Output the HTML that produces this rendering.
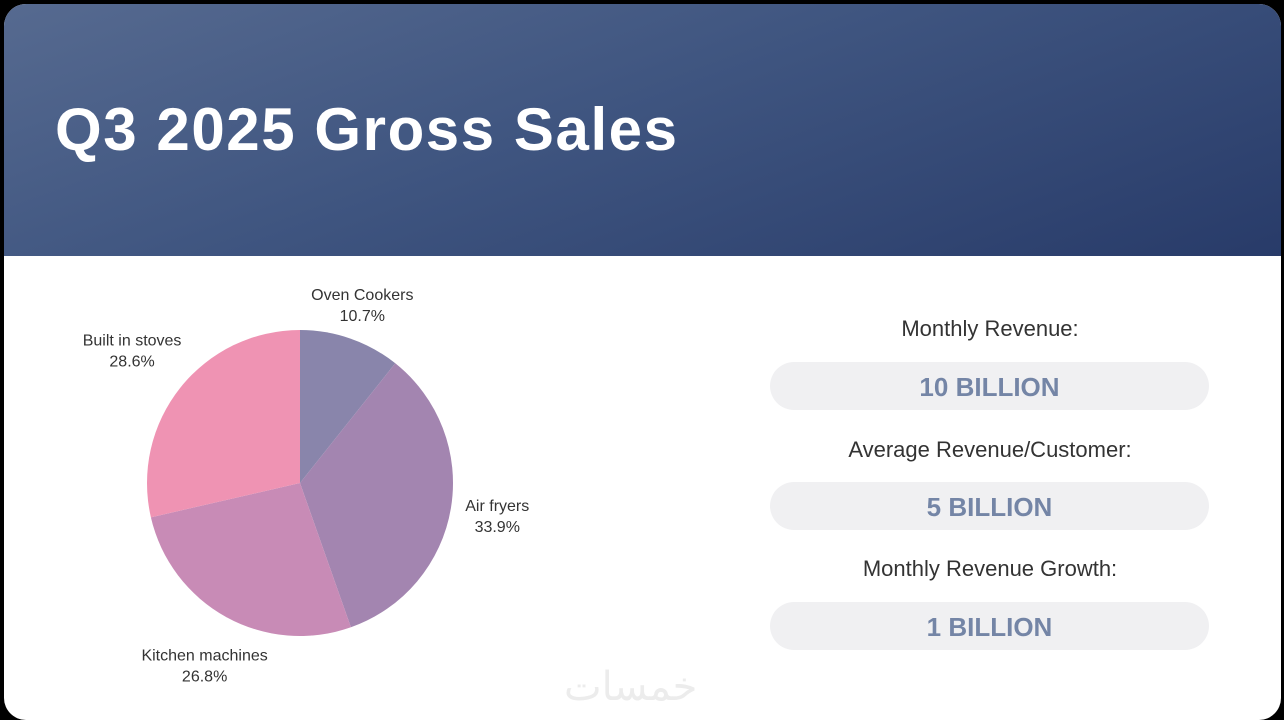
<!DOCTYPE html>
<html><head><meta charset="utf-8"><style>
body{margin:0;background:#000;width:1284px;height:718px;overflow:hidden;font-family:"Liberation Sans",sans-serif;position:relative}
#card{position:absolute;left:4px;top:4px;width:1277px;height:716px;border-radius:22px;background:#fff;overflow:hidden}
#hdr{position:absolute;left:0;top:0;width:100%;height:252px;background:linear-gradient(160deg,#566a90 0%,#3f5580 45%,#283b69 100%)}
.lbl{position:absolute;width:440px;left:766px;text-align:center;font-size:22px;color:#333}
.pill{position:absolute;left:766px;width:439px;height:48px;border-radius:24px;background:#f0f0f2;text-align:center;line-height:50px;font-size:26px;font-weight:bold;color:#7485a6}
</style></head><body>
<div id="card">
<div id="hdr">
<svg width="1277" height="252"><text x="51" y="146" font-family="Liberation Sans, sans-serif" font-weight="bold" font-size="60" fill="#fff" textLength="622">Q3 2025 Gross Sales</text></svg>
</div>
<svg id="pie" width="700" height="460" style="position:absolute;left:0;top:252px"></svg>
<div class="lbl" style="top:312px">Monthly Revenue:</div>
<div class="pill" style="top:358px">10 BILLION</div>
<div class="lbl" style="top:433px">Average Revenue/Customer:</div>
<div class="pill" style="top:478px">5 BILLION</div>
<div class="lbl" style="top:552px">Monthly Revenue Growth:</div>
<div class="pill" style="top:598px">1 BILLION</div>
<div style="position:absolute;left:560px;top:660px;font-size:40px;color:#ececec;font-family:'DejaVu Sans',sans-serif">خمسات</div>
</div>
<script>
const categories=["Oven Cookers","Air fryers","Kitchen machines","Built in stoves"];
const values=[10.7,33.9,26.8,28.6];
const colors=["#8985ab","#a385b0","#c88bb6","#ef93b3"];
const svg=document.getElementById('pie');const NS="http://www.w3.org/2000/svg";
const cx=296,cy=227,r=153;
const total=values.reduce((a,b)=>a+b,0);
let a0=0;
const adjX=[-3,2,0,-13], adjY=[4,-5,4,-14];
values.forEach((v,i)=>{
 const a1=a0+v/total*2*Math.PI;
 const p=(a)=>[cx+r*Math.sin(a),cy-r*Math.cos(a)];
 const [x0,y0]=p(a0),[x1,y1]=p(a1);
 const path=document.createElementNS(NS,'path');
 path.setAttribute('d',`M${cx},${cy}L${x0},${y0}A${r},${r} 0 ${a1-a0>Math.PI?1:0} 1 ${x1},${y1}Z`);
 path.setAttribute('fill',colors[i]);
 
 
 svg.appendChild(path);
 const am=(a0+a1)/2;
 const lx=cx+(r+45)*Math.sin(am)+adjX[i], ly=cy-(r+45)*Math.cos(am)+adjY[i];
 const t=document.createElementNS(NS,'text');
 t.setAttribute('text-anchor','middle');t.setAttribute('font-size','16');t.setAttribute('fill','#333');
 t.setAttribute('font-family','Liberation Sans, sans-serif');
 
 
 t.innerHTML=`<tspan x="${lx}" y="${ly}">${categories[i]}</tspan><tspan x="${lx}" dy="21">${v.toFixed(1)}%</tspan>`;
 svg.appendChild(t);
 a0=a1;
});
</script>
</body></html>
